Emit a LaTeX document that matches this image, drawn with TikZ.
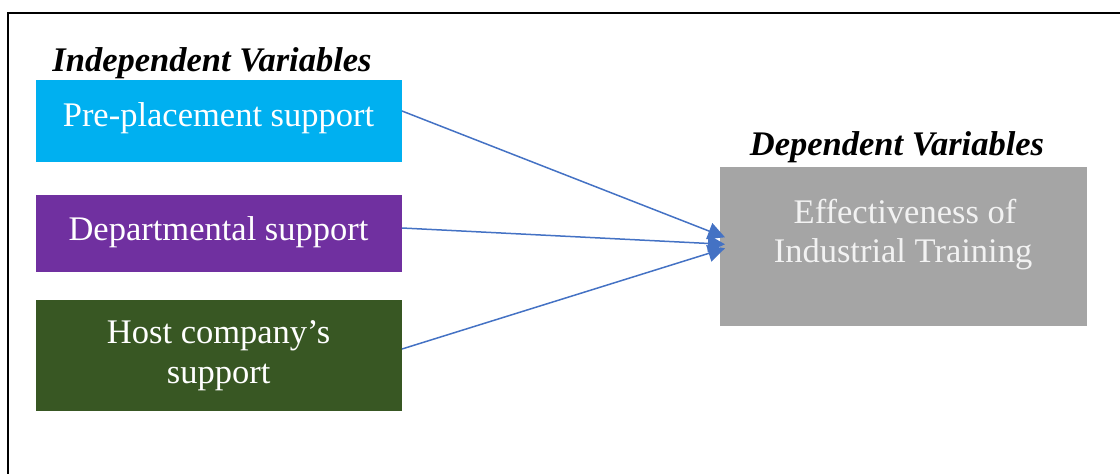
\documentclass[tikz,border=0pt]{standalone}
\usepackage{fontspec}
\setmainfont{Liberation Serif}
\usetikzlibrary{arrows.meta,calc}
\definecolor{cblue}{HTML}{00B0F0}
\definecolor{cpurple}{HTML}{7030A0}
\definecolor{cgreen}{HTML}{385723}
\definecolor{cgray}{HTML}{A5A5A5}
\definecolor{carrow}{HTML}{4472C4}
\definecolor{ctextgray}{HTML}{F2F2F2}
\tikzset{
  varbox/.style={draw=none, inner sep=0pt, outer sep=0pt, minimum width=366pt},
  boxtext/.style={anchor=base, inner sep=0pt, text=white, font=\fontsize{34.5}{40}\selectfont},
  heading/.style={anchor=base, inner sep=0pt, font=\fontsize{34.5}{40}\selectfont\bfseries\itshape},
  link/.style={draw=carrow, line width=1.5pt, -{Triangle[length=17pt,width=17pt]}},
  frameline/.style={line width=2.2pt, black}
}
\begin{document}
\begin{tikzpicture}[x=1pt,y=-1pt]
\useasboundingbox (0,0) rectangle (1120,474);
% frame (top and left edges)
\coordinate (fl) at (8.3,474);
\coordinate (fc) at (8.3,13);
\coordinate (fr) at (1120,13);
\draw[frameline] (fl) -- (fc) -- (fr);
% headings
\node[heading] (hind) at (212,71) {Independent Variables};
\node[heading] (hdep) at (897,155) {Dependent Variables};
% boxes
\node[varbox, fill=cblue, minimum height=82pt] (pre) at (219,121) {};
\node[varbox, fill=cpurple, minimum height=77pt] (dep) at (219,233.5) {};
\node[varbox, fill=cgreen, minimum height=111pt] (host) at (219,355) {};
\node[varbox, fill=cgray, minimum width=367pt, minimum height=159pt] (dv) at (903.5,246.3) {};
% box texts
\node[boxtext] (tpre) at (218.5,126) {Pre-placement support};
\node[boxtext] (tdep) at (218.5,240) {Departmental support};
\node[boxtext] (thost1) at (218.6,343) {Host company’s};
\node[boxtext] (thost2) at (218.6,383) {support};
\node[boxtext, text=ctextgray] (tdv1) at (905,223) {Effectiveness of};
\node[boxtext, text=ctextgray] (tdv2) at (903,262) {Industrial Training};
% arrows
\draw[link] ($(pre.east)+(0,-10)$) -- ($(dv.west)+(5,-9)$);
\draw[link] ($(dep.east)+(0,-5.5)$) -- ($(dv.west)+(5,-2)$);
\draw[link] ($(host.east)+(0,-6)$) -- ($(dv.west)+(5,2)$);
\end{tikzpicture}
\end{document}
